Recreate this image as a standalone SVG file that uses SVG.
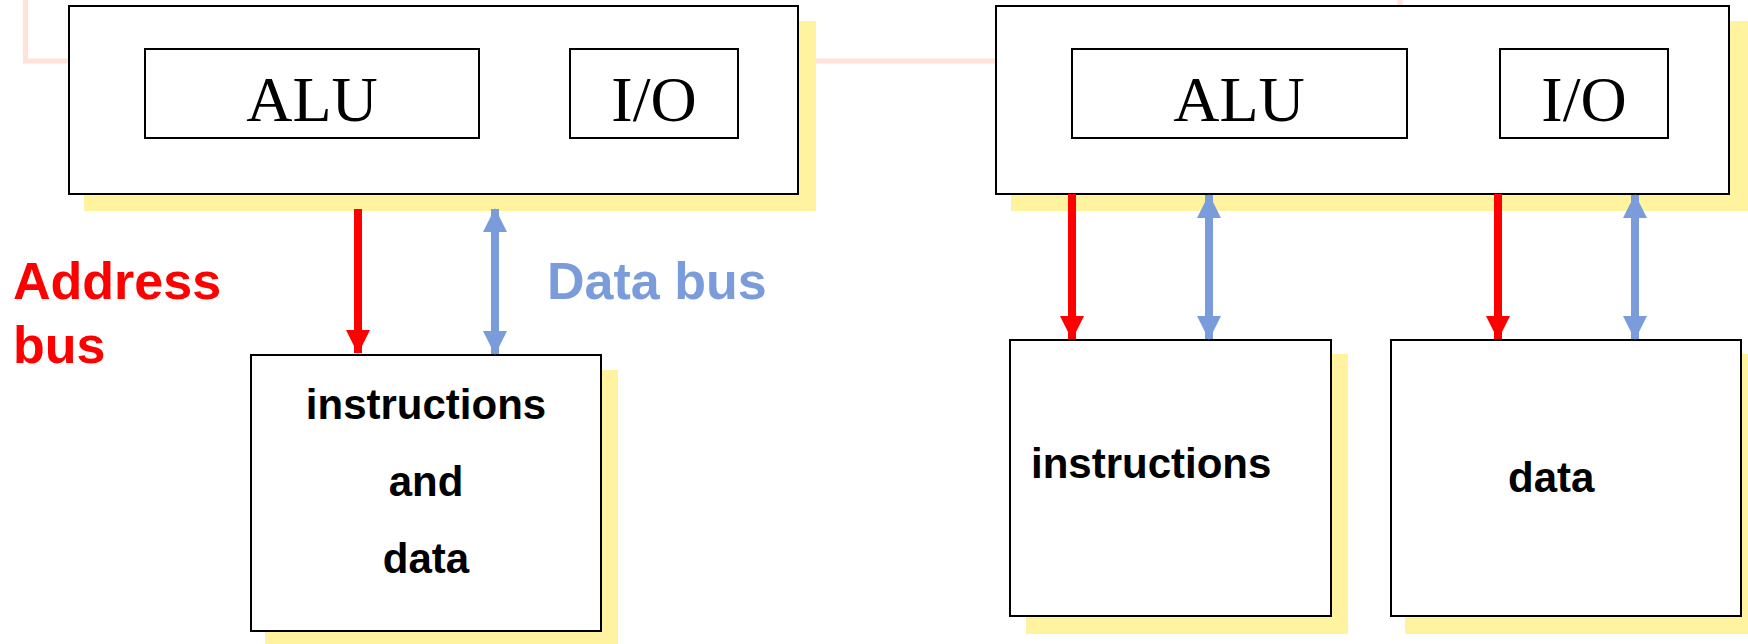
<svg xmlns="http://www.w3.org/2000/svg" width="1748" height="644" viewBox="0 0 1748 644">
<style>
.bg{fill:#ffffff}
.pink{fill:none;stroke:#FFE2D8;stroke-width:5}
.shadow{fill:#FFF3A0;stroke:none}
.box{fill:#ffffff;stroke:#000000;stroke-width:2}
.serif{font-family:"Liberation Serif","Times New Roman",serif;font-size:64px;fill:#000;text-anchor:middle}
.mem{font-family:"Liberation Sans",Arial,sans-serif;font-size:42px;font-weight:bold;fill:#000}
.lbl{font-family:"Liberation Sans",Arial,sans-serif;font-size:52px;font-weight:bold}
.addr{stroke:#FF0000;stroke-width:8;fill:none}
.data{stroke:#7A9CDA;stroke-width:8;fill:none}
</style>
<defs>
<marker id="hr" markerUnits="userSpaceOnUse" markerWidth="24" markerHeight="24" refX="23" refY="12" orient="auto-start-reverse" viewBox="0 0 24 24"><path d="M0,0 L24,12 L0,24 Z" fill="#FF0000"/></marker>
<marker id="hb" markerUnits="userSpaceOnUse" markerWidth="24" markerHeight="24" refX="23" refY="12" orient="auto-start-reverse" viewBox="0 0 24 24"><path d="M0,0 L24,12 L0,24 Z" fill="#7A9CDA"/></marker>
</defs>
<rect class="bg" x="0" y="0" width="1748" height="644"/>
<g id="background-lines">
<path class="pink" d="M25.5,0 V61 H1000"/>
<path class="pink" d="M1400,0 V8"/>
</g>
<g id="cpu-left">
<rect class="shadow" x="84" y="21" width="732" height="190"/>
<rect class="box" x="69" y="6" width="729" height="188"/>
<rect class="box" x="145" y="49" width="334" height="89"/>
<text class="serif" x="312" y="121">ALU</text>
<rect class="box" x="570" y="49" width="168" height="89"/>
<text class="serif" x="654" y="121">I/O</text>
</g>
<g id="cpu-right">
<rect class="shadow" x="1011" y="21" width="737" height="190"/>
<rect class="box" x="996" y="6" width="733" height="188"/>
<rect class="box" x="1072" y="49" width="335" height="89"/>
<text class="serif" x="1239" y="121">ALU</text>
<rect class="box" x="1500" y="49" width="168" height="89"/>
<text class="serif" x="1584" y="121">I/O</text>
</g>
<g id="mem-left">
<rect class="shadow" x="265" y="370" width="353" height="274"/>
<rect class="box" x="251" y="355" width="350" height="276"/>
<text class="mem" x="426" y="419" text-anchor="middle">instructions</text>
<text class="mem" x="426" y="496" text-anchor="middle">and</text>
<text class="mem" x="426" y="573" text-anchor="middle">data</text>
</g>
<g id="mem-instr">
<rect class="shadow" x="1026" y="354" width="322" height="280"/>
<rect class="box" x="1010" y="340" width="321" height="276"/>
<text class="mem" x="1031" y="478">instructions</text>
</g>
<g id="mem-data">
<rect class="shadow" x="1405" y="354" width="343" height="280"/>
<rect class="box" x="1391" y="340" width="350" height="276"/>
<text class="mem" x="1508" y="492">data</text>
</g>
<g id="labels">
<text class="lbl" x="13" y="299" fill="#FF0000">Address</text>
<text class="lbl" x="13" y="363" fill="#FF0000">bus</text>
<text class="lbl" x="547" y="299" fill="#7A9CDA">Data bus</text>
</g>
<g id="connectors">
<line class="addr" x1="358" y1="209" x2="358" y2="353" marker-end="url(#hr)"/>
<line class="data" x1="495" y1="209" x2="495" y2="354" marker-start="url(#hb)" marker-end="url(#hb)"/>
<line class="addr" x1="1072" y1="194" x2="1072" y2="339" marker-end="url(#hr)"/>
<line class="data" x1="1209" y1="195" x2="1209" y2="339" marker-start="url(#hb)" marker-end="url(#hb)"/>
<line class="addr" x1="1498" y1="194" x2="1498" y2="339" marker-end="url(#hr)"/>
<line class="data" x1="1635" y1="195" x2="1635" y2="339" marker-start="url(#hb)" marker-end="url(#hb)"/>
</g>
</svg>
